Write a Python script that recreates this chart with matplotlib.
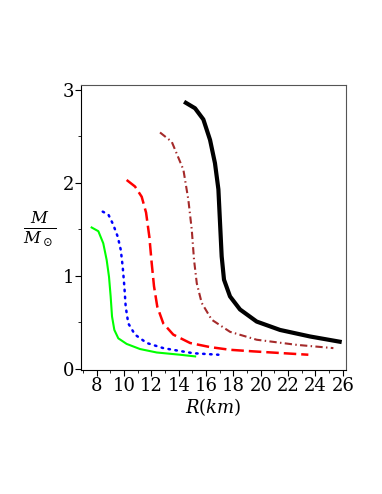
import matplotlib

matplotlib.use("Agg")
import matplotlib.pyplot as plt

# radius (km) and mass (solar masses)
green_r = [7.63, 8.12, 8.48, 8.73, 8.90, 9.02, 9.12, 9.29, 9.58, 10.19, 11.17, 12.39, 14.09, 15.2]
green_m = [1.52, 1.48, 1.35, 1.17, 0.99, 0.78, 0.565, 0.42, 0.33, 0.27, 0.215, 0.178, 0.154, 0.136]

blue_r = [8.44, 8.85, 9.21, 9.54, 9.76, 9.90, 10.02, 10.12, 10.31, 10.80, 11.66, 12.87, 13.85, 15.07, 16.9]
blue_m = [1.69, 1.66, 1.55, 1.42, 1.28, 1.10, 0.89, 0.67, 0.49, 0.37, 0.28, 0.225, 0.20, 0.17, 0.154]

red_r = [10.19, 10.80, 11.29, 11.61, 11.85, 12.02, 12.19, 12.43, 12.87, 13.60, 14.83, 16.29, 17.75, 19.46, 23.48]
red_m = [2.03, 1.96, 1.85, 1.68, 1.42, 1.14, 0.89, 0.67, 0.49, 0.37, 0.28, 0.236, 0.207, 0.19, 0.154]

brown_r = [12.63, 13.49, 14.34, 14.70, 14.95, 15.12, 15.32, 15.68, 16.41, 17.75, 19.70, 22.63, 25.31]
brown_m = [2.54, 2.44, 2.14, 1.82, 1.50, 1.17, 0.92, 0.71, 0.53, 0.40, 0.315, 0.26, 0.225]

black_r = [14.39, 15.19, 15.8, 16.29, 16.65, 16.9, 17.02, 17.14, 17.31, 17.75, 18.48, 19.70, 21.41, 23.6, 25.92]
black_m = [2.87, 2.80, 2.68, 2.46, 2.21, 1.93, 1.57, 1.21, 0.96, 0.78, 0.64, 0.51, 0.42, 0.35, 0.29]

x_ticks = [8, 10, 12, 14, 16, 18, 20, 22, 24, 26]
y_ticks = [0, 1, 2, 3]

plt.rcParams["font.family"] = ["DejaVu Serif"]
plt.rcParams["mathtext.fontset"] = "dejavuserif"

fig = plt.figure(figsize=(3.82, 4.94), dpi=100)
ax = fig.add_axes([0.212, 0.251, 0.694, 0.577])

ax.plot(green_r, green_m, color="#00ff00", lw=1.5, solid_joinstyle="round")
ax.plot(blue_r, blue_m, color="#0000ff", lw=1.8, linestyle=(0, (0.6, 2.2)), dash_capstyle="round")
ax.plot(red_r, red_m, color="#ff0000", lw=1.8, linestyle=(0, (5, 2)))
ax.plot(brown_r, brown_m, color="#a52a2a", lw=1.5, linestyle=(0, (3.5, 1.6, 0.7, 1.6)))
ax.plot(black_r, black_m, color="black", lw=3.0, solid_capstyle="butt", solid_joinstyle="round")

ax.set_xlim(6.85, 26.24)
ax.set_ylim(-0.01, 3.05)
ax.set_xticks(x_ticks)
ax.set_yticks(y_ticks)
ax.set_xticks(range(7, 27, 2), minor=True)
ax.set_yticks([0.5, 1.5, 2.5], minor=True)
ax.tick_params(axis="both", which="major", labelsize=13, length=4, direction="out", pad=1)
ax.tick_params(axis="both", which="minor", length=2, direction="out")
for s in ax.spines.values():
    s.set_linewidth(0.8)
    s.set_color("#555555")
ax.spines["left"].set_color("black")
ax.spines["bottom"].set_color("black")

ax.set_xlabel(r"$R(km)$", fontsize=13, labelpad=1)
fig.text(0.105, 0.535, r"$\frac{M}{M_\odot}$", fontsize=17, ha="center", va="center")

fig.savefig("out.png", dpi=100)
